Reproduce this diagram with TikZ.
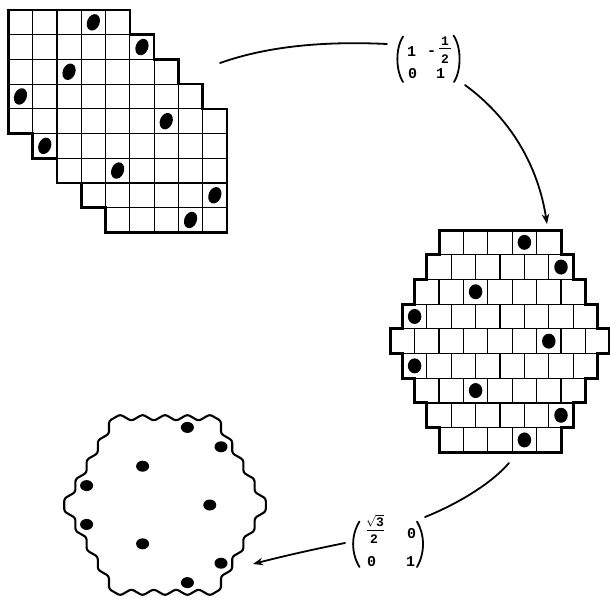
\documentclass[tikz,border=0pt]{standalone}
\usepackage{fontspec}
\setmonofont{Liberation Mono}
\usetikzlibrary{arrows.meta,shapes.geometric}
\tikzset{
  gridline/.style={line width=1.2pt},
  outerline/.style={line width=2.6pt, line join=miter},
  brickouter/.style={line width=3pt, line join=miter},
  hexline/.style={line width=2.1pt, line join=round, rounded corners=2.5pt},
  dotA/.style={ellipse, fill=black, draw=none, inner sep=0pt, minimum width=12.5pt, minimum height=17pt, rotate=-22},
  dotB/.style={ellipse, fill=black, draw=none, inner sep=0pt, minimum width=13.5pt, minimum height=15pt},
  dotC/.style={ellipse, fill=black, draw=none, inner sep=0pt, minimum width=13pt, minimum height=11pt},
  link/.style={line width=1.8pt, line cap=round},
  conn/.style={line width=1.8pt, line cap=round, -{Stealth[length=10pt,width=7.5pt]}},
  paren/.style={line width=1.8pt, line cap=round},
  fracbar/.style={line width=1.3pt},
  entry/.style={font=\ttfamily\bfseries\fontsize{15}{15}\selectfont, inner sep=0pt},
  smallentry/.style={font=\ttfamily\bfseries\fontsize{13}{13}\selectfont, inner sep=0pt},
}
\begin{document}
\begin{tikzpicture}[x=1pt,y=-1pt]
\useasboundingbox (0,0) rectangle (610,600);

% ---------- top-left sheared grid ----------
\begin{scope}[shift={(8.3pt,-10pt)}, x=24.3pt, y=-24.7pt]
  \foreach \j in {0,...,8} {
    \pgfmathtruncatemacro\lo{max(0,\j-4)}
    \pgfmathtruncatemacro\hi{min(8,\j+4)}
    \foreach \c in {\lo,...,\hi} { \draw[gridline] (\c,\j) rectangle ++(1,1); }
  }
  \draw[outerline] (0,0) -- (5,0) -- (5,1) -- (6,1) -- (6,2) -- (7,2) -- (7,3) -- (8,3) -- (8,4) -- (9,4)
    -- (9,9) -- (4,9) -- (4,8) -- (3,8) -- (3,7) -- (2,7) -- (2,6) -- (1,6) -- (1,5) -- (0,5) -- cycle;
  \foreach \c/\j in {3/0,5/1,2/2,0/3,6/4,1/5,4/6,8/7,7/8}
    \node[dotA] (ta\j) at (\c+0.5,\j+0.5) {};
\end{scope}

% ---------- right brick grid ----------
\begin{scope}[shift={(500pt,-230pt)}, x=12.2pt, y=-24.7pt]
  \foreach \r in {0,...,8} {
    \pgfmathtruncatemacro\n{9-abs(\r-4)}
    \pgfmathtruncatemacro\m{\n-1}
    \foreach \i in {0,...,\m} { \draw[gridline] ({-\n+2*\i},\r) rectangle ++(2,1); }
  }
  \draw[brickouter] (-5,0) -- (5,0) -- (5,1) -- (6,1) -- (6,2) -- (7,2) -- (7,3) -- (8,3) -- (8,4) -- (9,4)
    -- (9,5) -- (8,5) -- (8,6) -- (7,6) -- (7,7) -- (6,7) -- (6,8) -- (5,8) -- (5,9) -- (-5,9)
    -- (-5,8) -- (-6,8) -- (-6,7) -- (-7,7) -- (-7,6) -- (-8,6) -- (-8,5) -- (-9,5) -- (-9,4)
    -- (-8,4) -- (-8,3) -- (-7,3) -- (-7,2) -- (-6,2) -- (-6,1) -- (-5,1) -- cycle;
  \foreach \r/\i in {0/3,1/5,2/2,3/0,4/6,5/0,6/2,7/5,8/3} {
    \pgfmathtruncatemacro\n{9-abs(\r-4)}
    \node[dotB] (bd\r) at ({-\n+2*\i+1},\r+0.5) {};
  }
\end{scope}

% ---------- bottom-left hexagon ----------
\begin{scope}[shift={(165pt,-505pt)}, x=11.2pt, y=-6.467pt]
  \draw[hexline] (-5,-13) -- (-4,-14) -- (-3,-13) -- (-2,-14) -- (-1,-13) -- (0,-14) -- (1,-13) -- (2,-14) -- (3,-13) -- (4,-14) -- (5,-13)
    -- (5,-11) -- (6,-10) -- (6,-8) -- (7,-7) -- (7,-5) -- (8,-4) -- (8,-2) -- (9,-1) -- (9,1)
    -- (8,2) -- (8,4) -- (7,5) -- (7,7) -- (6,8) -- (6,10) -- (5,11) -- (5,13)
    -- (4,14) -- (3,13) -- (2,14) -- (1,13) -- (0,14) -- (-1,13) -- (-2,14) -- (-3,13) -- (-4,14) -- (-5,13)
    -- (-5,11) -- (-6,10) -- (-6,8) -- (-7,7) -- (-7,5) -- (-8,4) -- (-8,2) -- (-9,1) -- (-9,-1)
    -- (-8,-2) -- (-8,-4) -- (-7,-5) -- (-7,-7) -- (-6,-8) -- (-6,-10) -- (-5,-11) -- cycle;
  \foreach \r/\i in {0/3,1/5,2/2,3/0,4/6,5/0,6/2,7/5,8/3} {
    \pgfmathtruncatemacro\n{9-abs(\r-4)}
    \node[dotC] (hd\r) at ({2*\i-(\n-1)},{3*(\r-4)}) {};
  }
\end{scope}

% ---------- matrix 1 ----------
\node[entry] (m1a) at (411.7,52) {1};
\node[entry] (m1b) at (431.5,53) {-};
\node[smallentry] (m1c) at (445,41.5) {1};
\draw[fracbar] (439,48.5) -- (451,48.5);
\node[smallentry] (m1d) at (445,59.5) {2};
\node[entry] (m1e) at (412.7,73.5) {0};
\node[entry] (m1f) at (440.5,73.5) {1};
\draw[paren] (403,36.5) .. controls (395.5,48) and (395.5,70) .. (403,82);
\draw[paren] (453.5,35.5) .. controls (461.5,47) and (461.5,70) .. (454,82);

% ---------- matrix 2 ----------
\node[smallentry] (m2a) at (375,521) {$\sqrt{\mbox{\ttfamily\bfseries\fontsize{13}{13}\selectfont 3}}$};
\draw[fracbar] (366.5,530.5) -- (383.5,530.5);
\node[smallentry] (m2b) at (374,539.5) {2};
\node[entry] (m2c) at (411.7,533.5) {0};
\node[entry] (m2d) at (371.7,562) {0};
\node[entry] (m2e) at (410.5,562) {1};
\draw[paren] (359.5,521.5) .. controls (351,535) and (351,553) .. (359.5,567);
\draw[paren] (417,521.5) .. controls (425,535) and (425,553) .. (417,567);

% ---------- connectors ----------
\coordinate (c1s) at (220,63);
\coordinate (c1e) at (387,44);
\coordinate (c2s) at (465,85);
\coordinate (c2e) at (547,224);
\coordinate (c3s) at (509,463);
\coordinate (c3e) at (425,517);
\coordinate (c4s) at (345,543);
\coordinate (c4e) at (253,564);
\draw[link] (c1s) .. controls (268,46) and (325,41) .. (c1e);
\draw[conn] (c2s) .. controls (510,118) and (538,165) .. (c2e);
\draw[link] (c3s) .. controls (490,485) and (455,505) .. (c3e);
\draw[conn] (c4s) .. controls (310,550) and (280,557) .. (c4e);
\end{tikzpicture}
\end{document}
